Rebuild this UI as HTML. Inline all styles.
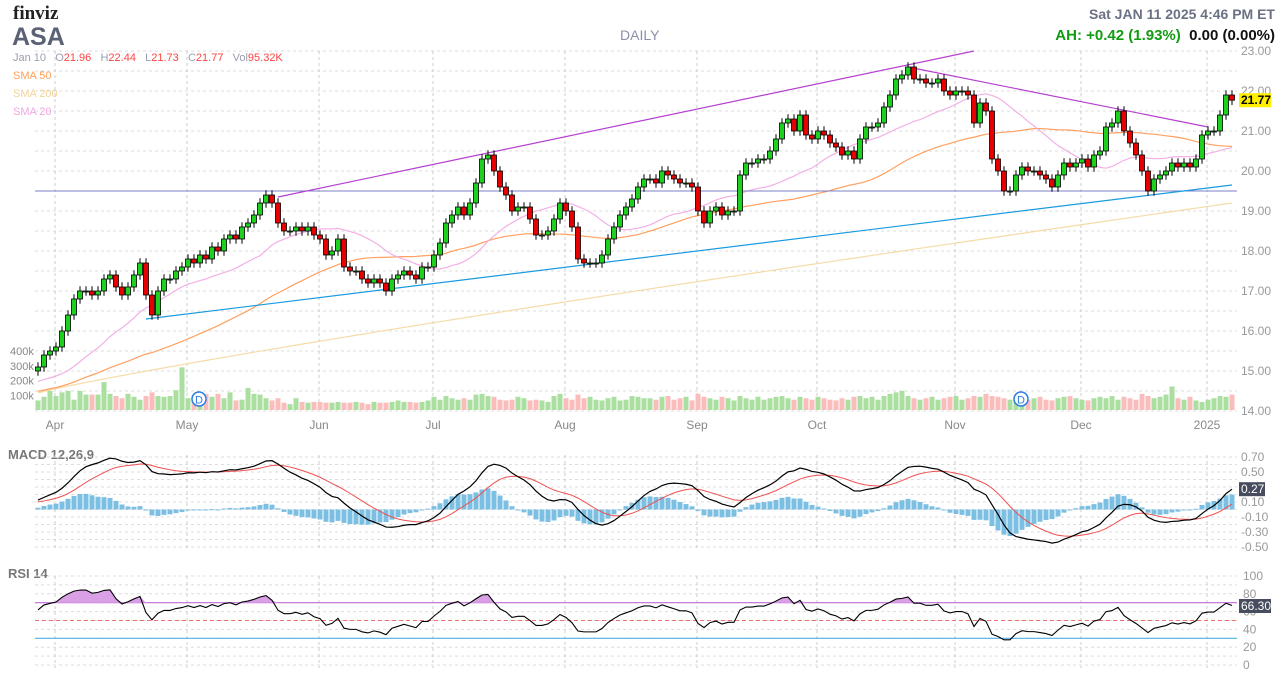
<!DOCTYPE html>
<html><head><meta charset="utf-8">
<style>
body{margin:0;background:#fff;font-family:"Liberation Sans",Arial,sans-serif;}
#wrap{position:relative;width:1287px;height:682px;overflow:hidden;}
.t{position:absolute;white-space:nowrap;}
</style></head>
<body>
<div id="wrap">
<div class="t" style="left:13px;top:3px;font:bold 19px 'Liberation Serif',serif;color:#222;">finviz</div>
<div class="t" style="left:12px;top:23px;font:bold 25px 'Liberation Sans';color:#5b6275;">ASA</div>
<div class="t" style="left:620px;top:27px;font:14px 'Liberation Sans';color:#8a90a8;">DAILY</div>
<div class="t" style="right:12px;top:6px;font:bold 14px 'Liberation Sans';color:#6b7184;">Sat JAN 11 2025 4:46 PM ET</div>
<div class="t" style="right:12px;top:27px;font:bold 15px 'Liberation Sans';"><span style="color:#119c11">AH: +0.42 (1.93%)</span>&nbsp; <span style="color:#111">0.00 (0.00%)</span></div>
<div class="t" style="left:13px;top:52px;font:11px 'Liberation Sans';color:#9a9fb0;">Jan 10 &nbsp; O<span style="color:#f44">21.96</span> &nbsp; H<span style="color:#f44">22.44</span> &nbsp; L<span style="color:#f44">21.73</span> &nbsp; C<span style="color:#f44">21.77</span> &nbsp; Vol<span style="color:#f44">95.32K</span></div>
<div class="t" style="left:13px;top:70px;font:11px 'Liberation Sans';color:#ff9f5a;">SMA 50</div>
<div class="t" style="left:13px;top:88px;font:11px 'Liberation Sans';color:#f2d49a;">SMA 200</div>
<div class="t" style="left:13px;top:106px;font:11px 'Liberation Sans';color:#f0a6e0;">SMA 20</div>
<div class="t" style="left:8px;top:447px;font:bold 13px 'Liberation Sans';color:#777;">MACD 12,26,9</div>
<div class="t" style="left:8px;top:566px;font:bold 13px 'Liberation Sans';color:#777;">RSI 14</div>
<svg id="svg" width="1287" height="682" style="position:absolute;left:0;top:0"></svg>
</div>
<script>
const priorCloses=[13.9,14.0,13.8,14.1,14.0,14.2,14.1,13.9,14.0,14.2,14.3,14.1,14.2,14.4,14.3,14.2,14.4,14.5,14.3,14.4,
14.6,14.5,14.4,14.6,14.7,14.5,14.6,14.5,14.7,14.8,14.6,14.5,14.7,14.6,14.8,14.9,14.7,14.6,14.5,14.7,
14.8,14.6,14.5,14.7,14.9,14.8,14.7,14.8,14.9,15.0];
const closes=[15.1,15.4,15.5,15.6,16.0,16.4,16.8,17.0,17.0,16.9,17.0,17.3,17.4,17.1,16.9,17.1,17.4,17.7,16.9,16.4,
17.0,17.3,17.3,17.5,17.6,17.8,17.7,17.9,17.8,18.1,18.0,18.3,18.4,18.3,18.6,18.7,18.9,19.2,19.4,19.2,
18.7,18.5,18.5,18.6,18.5,18.6,18.4,18.3,17.9,18.0,18.3,17.6,17.5,17.5,17.3,17.2,17.3,17.2,17.0,17.3,
17.4,17.5,17.4,17.3,17.6,17.6,17.9,18.2,18.7,18.9,19.1,18.9,19.2,19.7,20.3,20.4,20.0,19.6,19.4,19.0,
19.1,19.1,18.8,18.4,18.4,18.5,18.8,19.2,19.0,18.6,17.8,17.7,17.7,17.7,17.9,18.3,18.6,18.9,19.1,19.3,
19.6,19.8,19.8,19.7,20.0,19.9,19.8,19.7,19.7,19.6,19.0,18.7,19.0,19.1,18.9,19.0,19.0,19.9,20.2,20.2,
20.3,20.3,20.5,20.8,21.2,21.3,21.0,21.4,20.9,20.8,21.0,20.9,20.7,20.6,20.4,20.5,20.3,20.8,21.1,21.1,
21.2,21.6,21.9,22.3,22.4,22.6,22.3,22.3,22.2,22.2,22.3,22.0,21.9,22.0,22.0,21.9,21.2,21.7,21.5,20.3,
20.0,19.5,19.5,19.9,20.1,20.0,20.0,19.9,19.8,19.6,19.9,20.2,20.1,20.2,20.3,20.1,20.4,20.5,21.1,21.2,
21.5,21.0,20.7,20.4,20.0,19.5,19.8,19.9,20.0,20.2,20.1,20.2,20.1,20.3,20.9,21.0,21.0,21.4,21.9,21.77];
const volumes=[65,90,130,95,120,130,70,130,105,105,105,190,110,95,80,110,90,70,95,120,95,90,95,135,290,80,70,90,110,90,
110,80,120,65,70,150,110,105,80,65,80,50,40,80,55,50,55,55,50,50,55,50,50,55,50,40,55,50,50,55,
65,55,55,50,55,65,90,70,95,80,70,80,70,105,110,95,90,70,65,70,90,80,65,70,65,55,95,110,80,70,
105,80,90,70,65,80,90,65,70,95,90,80,80,70,90,95,70,80,90,65,110,90,80,70,90,80,65,95,80,70,
90,70,80,90,95,80,70,90,80,70,90,80,70,65,80,70,90,95,80,90,70,95,110,120,130,95,80,70,80,90,
70,80,90,95,70,80,95,90,110,95,90,80,70,80,90,70,80,90,70,65,80,90,95,80,70,65,80,90,80,95,
70,90,80,70,110,95,80,90,105,160,80,70,90,65,55,70,80,95,90,105,95];
const sma200Ends=[14.45,19.2];
const priceTicks=[23,22,21,20,19,18,17,16,15,14];
const volTicks=[100,200,300,400];
const macdTicks=[0.7,0.5,0.3,0.1,-0.1,-0.3,-0.5];
const rsiTicks=[100,80,60,40,20,0];
const months=[["Apr",3],["May",25],["Jun",47],["Jul",66],["Aug",88],["Sep",110],["Oct",130],["Nov",153],["Dec",174],["2025",195]];

const N=closes.length, L=35, R=1237, P=priorCloses.length;
const all=priorCloses.concat(closes);
const xi=i=>38+i*6;
const yp=p=>51+(23-p)*40;
const yv=v=>410-v*0.147;
const ym=v=>509.5-v*75;
const yr=v=>665-v*0.89;
const svg=document.getElementById('svg');
const NS='http://www.w3.org/2000/svg';
function mk(tag,a,parent){const e=document.createElementNS(NS,tag);for(const k in a)e.setAttribute(k,a[k]);(parent||svg).appendChild(e);return e;}
function txt(x,y,s,a){const e=mk('text',Object.assign({x:x,y:y,'font-family':'Liberation Sans','font-size':12,fill:'#999'},a||{}));e.textContent=s;return e;}
function poly(pts,stroke,w,name){const e=mk('polyline',{points:pts.map(p=>p.join(',')).join(' '),fill:'none',stroke:stroke,'stroke-width':w});return e;}
const dash='3,3';
for(let p=23;p>=14;p-=0.5){const g=mk('line',{x1:L,x2:R,y1:yp(p),y2:yp(p),stroke:'#ddd','stroke-dasharray':dash});}
priceTicks.forEach(p=>{const t=txt(1241,yp(p)+4,p.toFixed(2));});
volTicks.forEach(v=>{const t=txt(10,yv(v)+4,v+'k',{'font-size':11,fill:'#888'});});
for(let v=0.7;v>-0.6;v-=0.1){const g=mk('line',{x1:L,x2:R,y1:ym(v),y2:ym(v),stroke:'#ddd','stroke-dasharray':dash});}
macdTicks.forEach(v=>{const t=txt(1241,ym(v)+4,v.toFixed(2));});
for(let v=100;v>=0;v-=10){const g=mk('line',{x1:L,x2:R,y1:yr(v),y2:yr(v),stroke:'#ddd','stroke-dasharray':dash});}
rsiTicks.forEach(v=>{const t=txt(1243,yr(v)+4,String(v));});
months.forEach(m=>{const x=xi(m[1])-1;
 [[51,411],[455,548],[576,668]].forEach(r=>{const g=mk('line',{x1:x,x2:x,y1:r[0],y2:r[1],stroke:'#ccc','stroke-dasharray':dash});});
 const t=txt(x,429,m[0],{'font-size':12,fill:'#888','text-anchor':'middle'});});
for(let i=0;i<N;i++){const up=closes[i]>=all[P+i-1];const b=mk('rect',{x:xi(i)-2.5,y:yv(volumes[i]),width:5,height:410-yv(volumes[i]),fill:up?'#aadfa0':'#fbbcbc'});}
function sma(n){return closes.map((c,i)=>{let t=0;for(let k=P+i-n+1;k<=P+i;k++)t+=all[k];return t/n;});}
const s20=sma(20), s50=sma(50);
poly(closes.map((c,i)=>[xi(i),yp(sma200Ends[0]+(sma200Ends[1]-sma200Ends[0])*Math.pow(i/(N-1),0.9))]),'#f5dba8',1.2,'sma200-line');
poly(s50.map((v,i)=>[xi(i),yp(v)]),'#ffa060',1.2,'sma50-line');
poly(s20.map((v,i)=>[xi(i),yp(v)]),'#f2b0e6',1.2,'sma20-line');
function tl(i1,p1,i2,p2,c,name){const l=mk('line',{x1:xi(i1),y1:yp(p1),x2:xi(i2),y2:yp(p2),stroke:c,'stroke-width':1.2});}
const hl=mk('line',{x1:L,x2:R,y1:yp(19.5),y2:yp(19.5),stroke:'#7b80c4','stroke-width':1});
tl(40,19.35,156,23,'#b540d0','upper-channel-line');
tl(145,22.6,195,21.1,'#b540d0','descending-trendline');
tl(18,16.3,199,19.65,'#1a9be0','support-trendline');
for(let i=0;i<N;i++){const o=all[P+i-1],c=closes[i];const hi=Math.max(o,c)+0.12,lo=Math.min(o,c)-0.12;const up=c>=o;
 const w=mk('line',{x1:xi(i),x2:xi(i),y1:yp(hi),y2:yp(lo),stroke:'#000','stroke-width':1});
 const b=mk('rect',{x:xi(i)-2.5,y:yp(Math.max(o,c)),width:5,height:Math.max(1,Math.abs(o-c)*40),fill:up?'#1fd11f':'#e80000',stroke:'#000','stroke-width':0.8});}
const bd=mk('rect',{x:1239,y:yp(21.77)-7,width:32,height:14,fill:'#ffee00'});
const bt=txt(1241,yp(21.77)+4,'21.77',{fill:'#000','font-weight':'bold'});
[25,162].forEach(i=>{const c=mk('circle',{cx:xi(i)+11,cy:399,r:7,fill:'#fff',stroke:'#2a7de1','stroke-width':1.5});
 const t=txt(xi(i)+7,403.5,'D',{fill:'#2a7de1','font-size':11});});
function ema(arr,n){const k=2/(n+1);const o=[];arr.forEach((v,i)=>o.push(i?v*k+o[i-1]*(1-k):v));return o;}
const e12=ema(all,12),e26=ema(all,26);const macdAll=e12.map((v,i)=>v-e26[i]);const sigAll=ema(macdAll,9);
const macd=macdAll.slice(P),sig=sigAll.slice(P);
for(let i=0;i<N;i++){const h=macd[i]-sig[i];const b=mk('rect',{x:xi(i)-2.5,y:Math.min(ym(0),ym(h)),width:5,height:Math.max(1,Math.abs(h)*75),fill:'#7bbfe3'});}
poly(sig.map((v,i)=>[xi(i),ym(v)]),'#f05050',1,'macd-signal-line');
poly(macd.map((v,i)=>[xi(i),ym(v)]),'#000',1.2,'macd-line');
const mb=mk('rect',{x:1239,y:ym(macd[N-1])-7,width:26,height:14,fill:'#474d5e'});
const mt=txt(1241,ym(macd[N-1])+4,macd[N-1].toFixed(2),{fill:'#fff'});
let ag=0.08,al=0.06;const rsiAll=[];for(let i=0;i<all.length;i++){const d=i?all[i]-all[i-1]:0;const g=Math.max(d,0),l=Math.max(-d,0);ag=(ag*13+g)/14;al=(al*13+l)/14;rsiAll.push(100-100/(1+ag/al));}
const rsi=rsiAll.slice(P);
const r70=mk('line',{x1:L,x2:R,y1:yr(70),y2:yr(70),stroke:'#c36bdb','stroke-width':1.2});
const r50=mk('line',{x1:L,x2:R,y1:yr(50),y2:yr(50),stroke:'#f07070','stroke-dasharray':'4,3'});
const r30=mk('line',{x1:L,x2:R,y1:yr(30),y2:yr(30),stroke:'#4fb3e8','stroke-width':1.2});
const fillPts=rsi.map((v,i)=>xi(i)+','+yr(Math.max(v,70))).join(' ');
const rf=mk('polygon',{points:xi(0)+','+yr(70)+' '+fillPts+' '+xi(N-1)+','+yr(70),fill:'#d9a0e6',stroke:'none'});
poly(rsi.map((v,i)=>[xi(i),yr(v)]),'#000',1.1,'rsi-line');
const rb=mk('rect',{x:1239,y:yr(66.3)-7,width:32,height:14,fill:'#474d5e'});
const rt=txt(1241,yr(66.3)+4,'66.30',{fill:'#fff'});
</script>
</body></html>
